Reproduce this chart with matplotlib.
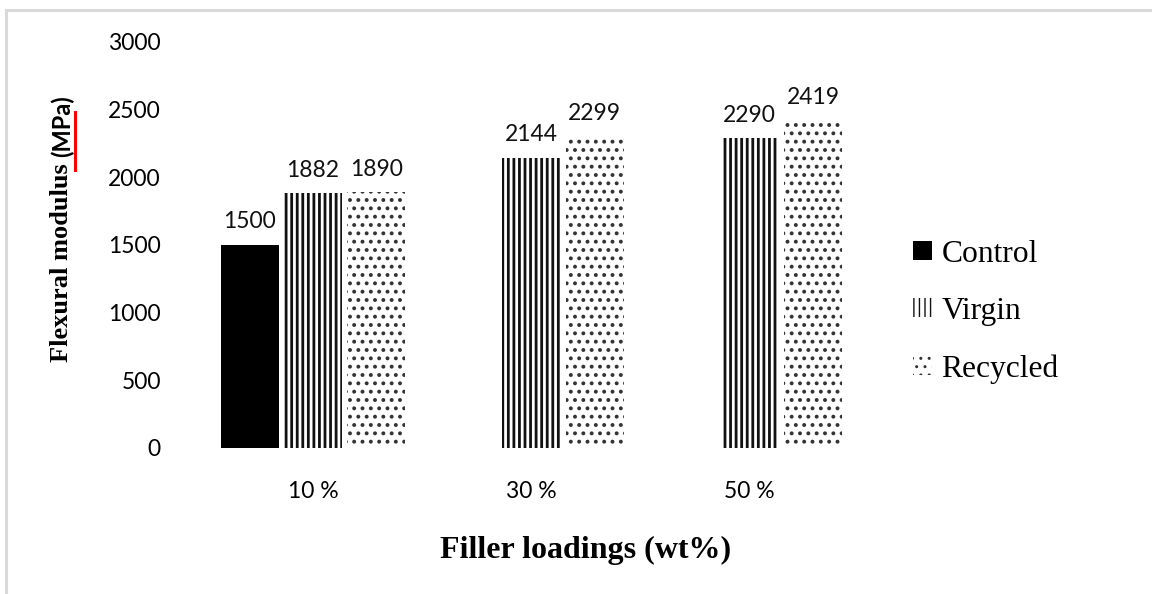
import numpy as np
import matplotlib
matplotlib.use('Agg')
import matplotlib.pyplot as plt
from matplotlib.lines import Line2D

# data
categories = ['10 %', '30 %', '50 %']
control_cats = ['10 %']          # control only measured once
control_vals = [1500]
virgin_vals = [1882, 2144, 2290]
recycled_vals = [1890, 2299, 2419]
yticks = [0, 500, 1000, 1500, 2000, 2500, 3000]

sans = ['Lato', 'DejaVu Sans']
serif = ['Liberation Serif', 'DejaVu Serif']

fig = plt.figure(figsize=(11.52, 5.94), dpi=100)
ax = fig.add_axes([0.177, 0.2458, 0.5686, 0.6835])

x = np.arange(len(categories))
w = 0.266
step = 0.29
cx = np.array([categories.index(c) for c in control_cats])

with plt.rc_context({'hatch.linewidth': 0.0}):
    b1 = ax.bar(cx - step, control_vals, w, color='black', linewidth=0, label='Control')
with plt.rc_context({'hatch.linewidth': 2.0}):
    b2 = ax.bar(x, virgin_vals, w, facecolor='white', edgecolor='#111111',
                hatch='|||', linewidth=0, label='Virgin')
with plt.rc_context({'hatch.linewidth': 1.6}):
    b3 = ax.bar(x + step, recycled_vals, w, facecolor='white', edgecolor='#333333',
                hatch='..', linewidth=0, label='Recycled')

for b in (b1, b2, b3):
    ax.bar_label(b, labels=[str(v) for v in b.datavalues], padding=9,
                 fontsize=16.5, family=sans, color='#111111')

ax.set_xlim(-0.5, 2.5)
ax.set_ylim(0, 3000)
ax.set_xticks(x)
ax.set_xticklabels(categories, fontsize=16.5, family=sans)
ax.set_yticks(yticks)
ax.set_yticklabels([str(v) for v in yticks], fontsize=16.5, family=sans)
ax.tick_params(axis='x', length=0, pad=24)
ax.tick_params(axis='y', length=0, pad=31)
for s in ax.spines.values():
    s.set_visible(False)

# axis titles: serif bold, the unit part in sans bold like the original
t1 = fig.text(0.0538, 0.3906, 'Flexural modulus ', rotation=90, ha='center', va='bottom',
              fontsize=19, fontweight='bold', family=serif)
ax.annotate('(MPa)', xy=(0.5, 1), xycoords=t1, rotation=90, ha='center', va='bottom',
            fontsize=17, fontweight='bold', family=sans, annotation_clip=False)
fig.text(0.5087, 0.0606, 'Filler loadings (wt%)', ha='center', va='baseline',
         fontsize=23, fontweight='bold', family=serif)

# red spell-check mark
fig.add_artist(Line2D([0.0655, 0.0655], [0.8114, 0.7138], color='red', lw=2.2))

# light grey frame, cut off at right and bottom
fig.add_artist(Line2D([0.0052, 1.0], [0.984, 0.984], color='#d9d9d9', lw=2.2))
fig.add_artist(Line2D([0.0052, 0.0052], [0.984, 0.0], color='#d9d9d9', lw=2.2))

leg = fig.legend(handles=[b1, b2, b3], loc='center left', bbox_to_anchor=(0.7925, 0.475),
                 frameon=False, prop={'family': serif, 'size': 22.7},
                 handlelength=0.6, handleheight=0.55, handletextpad=0.3,
                 labelspacing=0.9, borderpad=0, borderaxespad=0)

fig.savefig('out.png', dpi=100)
